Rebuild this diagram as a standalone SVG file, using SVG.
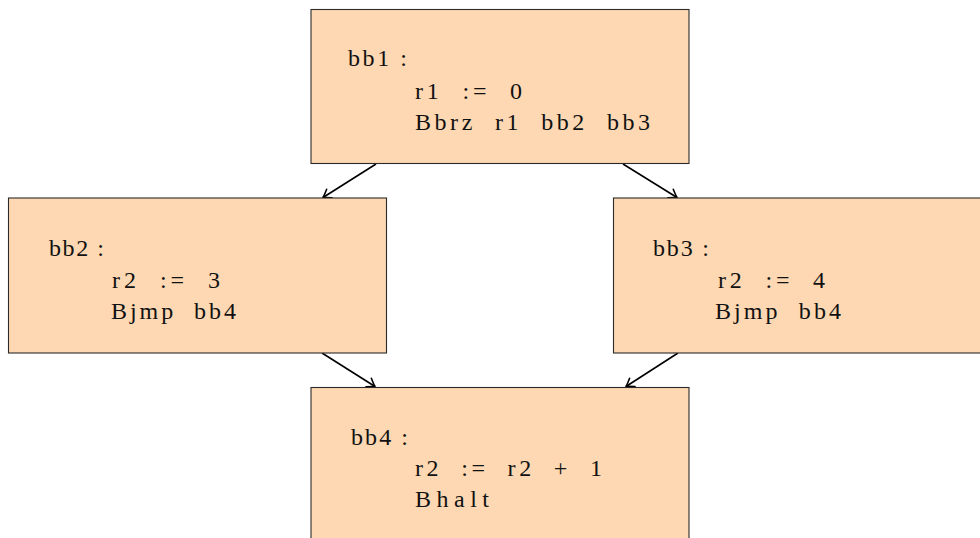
<svg xmlns="http://www.w3.org/2000/svg" width="980" height="538" viewBox="0 0 980 538">
<style>
.box{fill:#FDD8B2;stroke:#2a2a2a;stroke-width:1.1}
.t{font-family:"Liberation Serif","DejaVu Serif",serif;font-size:24px;fill:#111;white-space:pre}
.edge{stroke:#000;stroke-width:1.6;fill:none;marker-end:url(#ah)}
</style>
<defs>
<marker id="ah" viewBox="-9 -6 10 12" refX="0" refY="0" markerWidth="10" markerHeight="12" markerUnits="userSpaceOnUse" orient="auto">
<path d="M-7.5,-5 Q-2,-1 0,0 Q-2,1 -7.5,5" fill="none" stroke="#000" stroke-width="1.6" stroke-linecap="round" stroke-linejoin="round"/>
</marker>
</defs>
<rect width="980" height="538" fill="#fff"/>
<g id="connectors">
<line class="edge" x1="376" y1="164" x2="323" y2="197.5"/>
<line class="edge" x1="623" y1="164" x2="677" y2="197.5"/>
<line class="edge" x1="322" y1="353" x2="375" y2="386.5"/>
<line class="edge" x1="678" y1="353" x2="626" y2="386.5"/>
</g>
<g id="bb1">
<rect class="box" x="311" y="9.5" width="378" height="154"/>
<text class="t" x="348" y="66" textLength="59" lengthAdjust="spacing">bb1 :</text>
<text class="t" x="415" y="99" textLength="107" lengthAdjust="spacing">r1  :=  0</text>
<text class="t" x="415" y="130" textLength="235" lengthAdjust="spacing">Bbrz  r1  bb2  bb3</text>
</g>
<g id="bb2">
<rect class="box" x="8.5" y="198" width="378" height="155"/>
<text class="t" x="49" y="256" textLength="55" lengthAdjust="spacing">bb2 :</text>
<text class="t" x="112" y="288" textLength="108" lengthAdjust="spacing">r2  :=  3</text>
<text class="t" x="111" y="319" textLength="125" lengthAdjust="spacing">Bjmp  bb4</text>
</g>
<g id="bb3">
<rect class="box" x="613.5" y="198" width="380" height="155"/>
<text class="t" x="653" y="256" textLength="56" lengthAdjust="spacing">bb3 :</text>
<text class="t" x="718" y="288" textLength="107" lengthAdjust="spacing">r2  :=  4</text>
<text class="t" x="715" y="319" textLength="126" lengthAdjust="spacing">Bjmp  bb4</text>
</g>
<g id="bb4">
<rect class="box" x="311" y="387.5" width="378" height="170"/>
<text class="t" x="351" y="445" textLength="57" lengthAdjust="spacing">bb4 :</text>
<text class="t" x="415" y="476" textLength="187" lengthAdjust="spacing">r2  :=  r2  +  1</text>
<text class="t" x="415" y="507" textLength="74" lengthAdjust="spacing">Bhalt</text>
</g>
</svg>
